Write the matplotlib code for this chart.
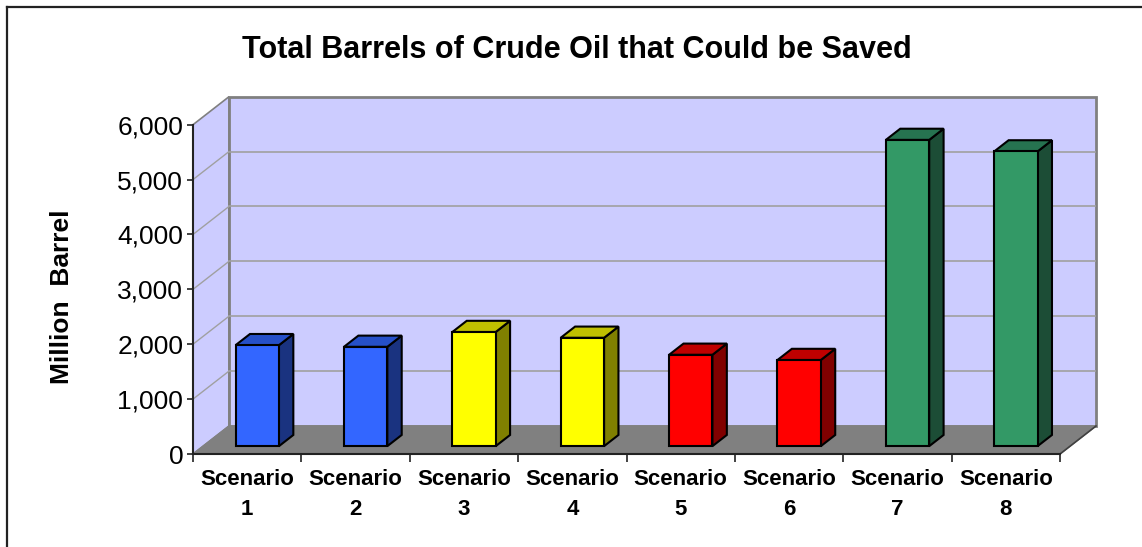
import matplotlib.pyplot as plt
from matplotlib.patches import Polygon
from matplotlib.lines import Line2D

# data
scenarios = ['Scenario\n1', 'Scenario\n2', 'Scenario\n3', 'Scenario\n4',
             'Scenario\n5', 'Scenario\n6', 'Scenario\n7', 'Scenario\n8']
barrels = [1840, 1810, 2080, 1975, 1665, 1570, 5580, 5370]
front_colors = ['#3366FF', '#3366FF', '#FFFF00', '#FFFF00',
                '#FF0000', '#FF0000', '#339966', '#339966']
top_colors = ['#2650C8', '#2650C8', '#C0C000', '#C0C000',
              '#BF0000', '#BF0000', '#267350', '#267350']
side_colors = ['#1A3380', '#1A3380', '#808000', '#808000',
               '#800000', '#800000', '#1C4D36', '#1C4D36']
yticks = [0, 1000, 2000, 3000, 4000, 5000, 6000]

plt.rcParams['font.family'] = ['Liberation Sans', 'DejaVu Sans']

fig = plt.figure(figsize=(11.42, 5.47), dpi=100)
ax = fig.add_axes([193 / 1142, 1 - 454 / 547, (1096 - 193) / 1142, (454 - 96.7) / 547])

n = len(barrels)
ymax = yticks[-1]
D = 0.332      # depth offset in category units
H = 510.0      # depth offset in value units
ax.set_xlim(0, n + D)
ax.set_ylim(0, ymax + H)
ax.patch.set_alpha(0)

wall = '#CCCCFF'
edge = '#808080'
# left wall
ax.add_patch(Polygon([(0, 0), (D, H), (D, ymax + H), (0, ymax)],
                     facecolor=wall, edgecolor=edge, lw=1.2, zorder=1, clip_on=False))
# back wall
ax.add_patch(Polygon([(D, H), (n + D, H), (n + D, ymax + H), (D, ymax + H)],
                     facecolor=wall, edgecolor=edge, lw=2, zorder=1, clip_on=False))
# floor
ax.add_patch(Polygon([(0, 0), (n, 0), (n + D, H), (D, H)],
                     facecolor='#808080', edgecolor='#808080', lw=1, zorder=1, clip_on=False))
ax.plot([n, n + D], [0, H], color='#404040', lw=1.2, zorder=2, clip_on=False)

# gridlines on walls
for t in yticks[1:-1]:
    ax.plot([D, n + D], [t + H, t + H], color='#A0A0A0', lw=1.2, zorder=1.5)
    ax.plot([0, D], [t, t + H], color='#A0A0A0', lw=1.0, zorder=1.5)

# 3d-style bars
w = 0.4
a, b = 0.28, 0.68
for i, v in enumerate(barrels):
    x0 = i + (1 - w) / 2 + a * D
    x1 = x0 + w
    y0 = a * H
    dx = (b - a) * D
    dy = (b - a) * H
    ax.add_patch(Polygon([(x1, y0), (x1 + dx, y0 + dy), (x1 + dx, v + y0 + dy), (x1, v + y0)],
                         facecolor=side_colors[i], edgecolor='black', lw=1.5, zorder=3))
    ax.add_patch(Polygon([(x0, v + y0), (x1, v + y0), (x1 + dx, v + y0 + dy), (x0 + dx, v + y0 + dy)],
                         facecolor=top_colors[i], edgecolor='black', lw=1.5, zorder=3))
    ax.add_patch(Polygon([(x0, y0), (x1, y0), (x1, v + y0), (x0, v + y0)],
                         facecolor=front_colors[i], edgecolor='black', lw=1.5, zorder=4))

# axes
for s in ['top', 'right']:
    ax.spines[s].set_visible(False)
ax.spines['left'].set_bounds(0, ymax)
ax.spines['bottom'].set_bounds(0, n)
for s in ['left', 'bottom']:
    ax.spines[s].set_color('#222222')
    ax.spines[s].set_linewidth(1.5)
    ax.spines[s].set_zorder(5)

ax.set_yticks(yticks)
ax.set_yticklabels([f'{t:,}' for t in yticks], fontsize=19)
ax.tick_params(axis='y', length=4, width=1.2, color='#222222', pad=3)

ax.set_xticks(range(n + 1))
ax.set_xticklabels([''] * (n + 1))
ax.set_xticks([i + 0.5 for i in range(n)], minor=True)
ax.set_xticklabels(scenarios, minor=True, fontsize=16, fontweight='bold', linespacing=1.55)
ax.tick_params(axis='x', which='major', length=6, width=1.2, color='#222222')
ax.tick_params(axis='x', which='minor', length=0, pad=11)

fig.text(577 / 1142, 1 - 50 / 547, 'Total Barrels of Crude Oil that Could be Saved',
         ha='center', va='center', fontsize=22, fontweight='bold')
fig.text(62 / 1142, 1 - 297 / 547, 'Million  Barrel', rotation=90,
         ha='center', va='center', fontsize=19, fontweight='bold')

# chart area border (left and top)
fig.add_artist(Line2D([7 / 1142, 7 / 1142], [0, 1 - 7 / 547], color='#222222', lw=1.6))
fig.add_artist(Line2D([7 / 1142, 1], [1 - 7 / 547, 1 - 7 / 547], color='#222222', lw=1.6))

plt.savefig('out.png', dpi=100)
